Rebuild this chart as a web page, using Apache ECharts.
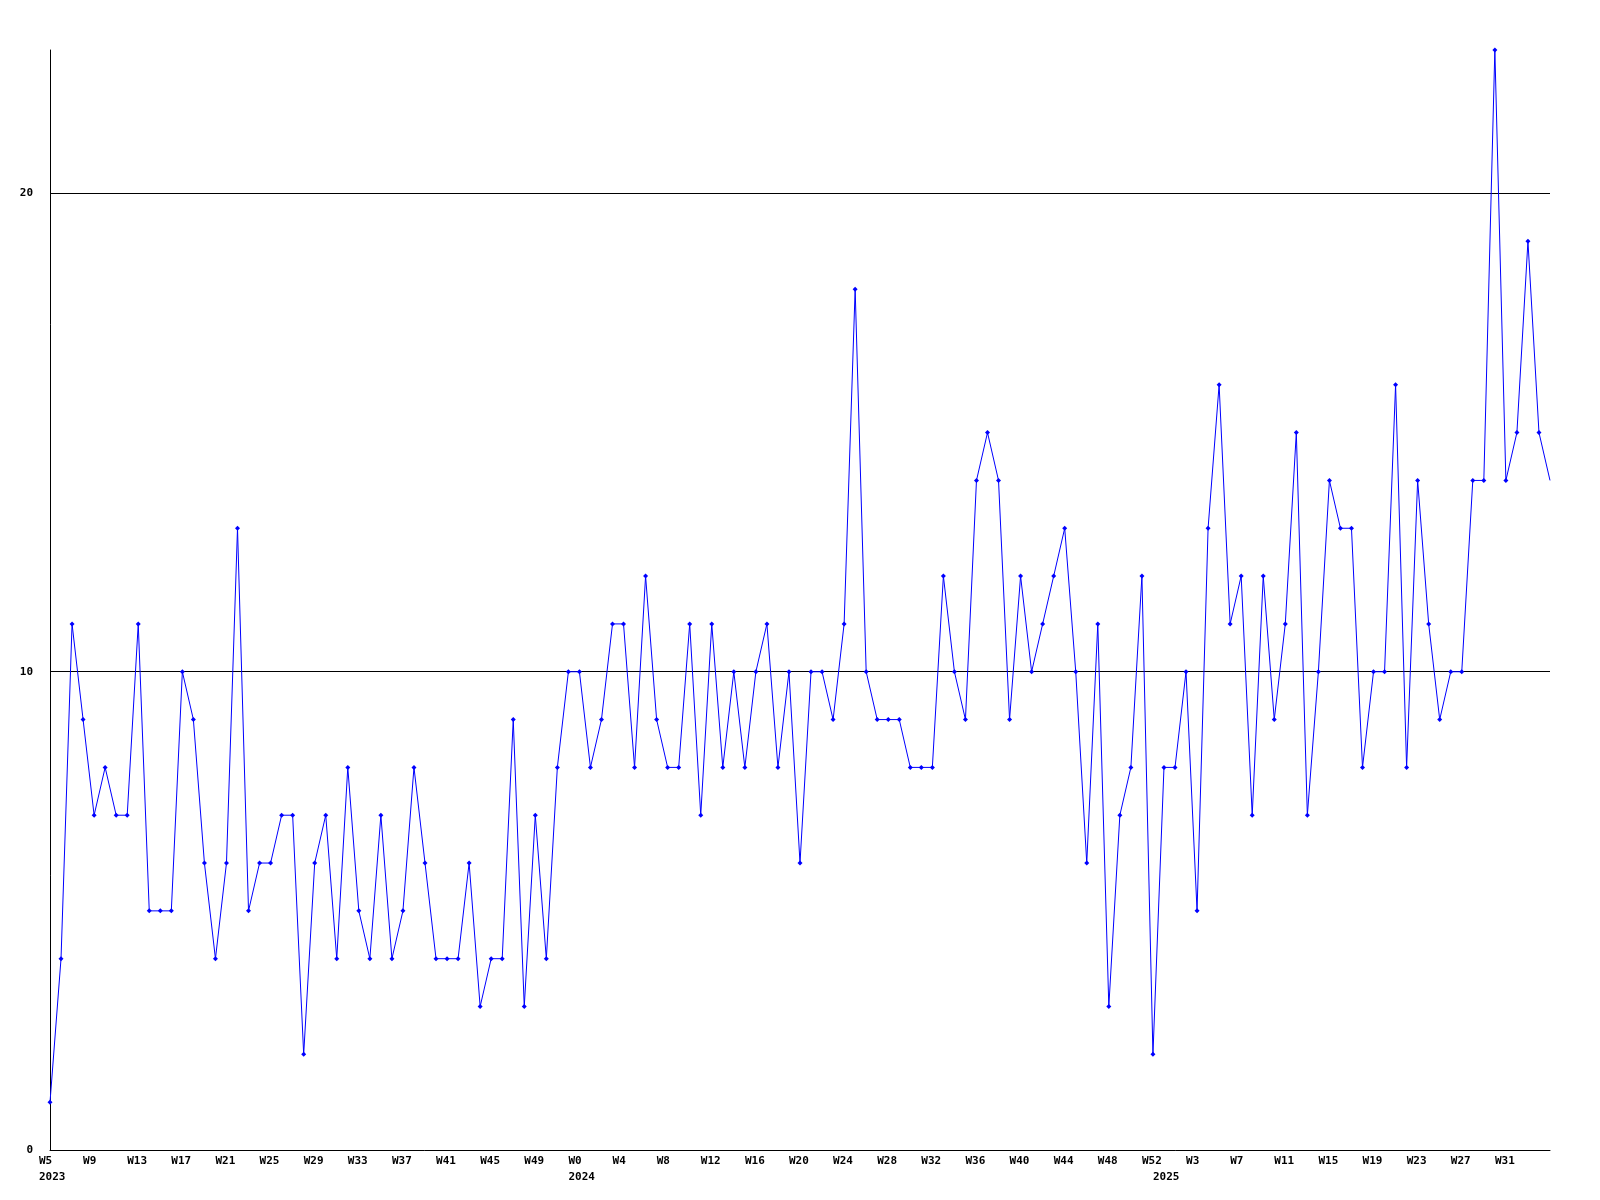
<!DOCTYPE html>
<html>
<head>
<meta charset="utf-8">
<script src="https://cdn.jsdelivr.net/npm/echarts@6/dist/echarts.min.js"></script>
<style>
  html, body { margin: 0; padding: 0; background: #ffffff; }
  #chart { width: 1600px; height: 1200px; }
</style>
</head>
<body>
<div id="chart"></div>
<script>
// Week ranges shown on the x axis: [year, first week, last week]
const yearRanges = [[2023, 5, 52], [2024, 0, 52], [2025, 0, 35]];

// Weekly values, in order from 2023 W5 to 2025 W35
const values2023 = [1, 4, 11, 9, 7, 8, 7, 7, 11, 5, 5, 5, 10, 9, 6, 4, 6, 13, 5, 6, 6, 7, 7, 2,
                    6, 7, 4, 8, 5, 4, 7, 4, 5, 8, 6, 4, 4, 4, 6, 3, 4, 4, 9, 3, 7, 4, 8, 10];
const values2024 = [10, 8, 9, 11, 11, 8, 12, 9, 8, 8, 11, 7, 11, 8, 10, 8, 10, 11, 8, 10, 6, 10, 10, 9,
                    11, 18, 10, 9, 9, 9, 8, 8, 8, 12, 10, 9, 14, 15, 14, 9, 12, 10, 11, 12, 13, 10, 6, 11,
                    3, 7, 8, 12, 2];
const values2025 = [8, 8, 10, 5, 13, 16, 11, 12, 7, 12, 9, 11, 15, 7, 10, 14, 13, 13, 8, 10, 10, 16, 8, 14,
                    11, 9, 10, 10, 14, 14, 23, 14, 15, 19, 15, 14];

const yTicks = [0, 10, 20];

// Build categories from the ranges
const categories = [];
const yearStart = {};
yearRanges.forEach(function (r) {
  yearStart[categories.length] = String(r[0]);
  for (let w = r[1]; w <= r[2]; w++) categories.push(r[0] + '-W' + w);
});
const values = values2023.concat(values2024, values2025);
const lastIndex = values.length - 1;

const fontFamily = '"DejaVu Sans Mono", "Liberation Mono", monospace';

const chart = echarts.init(document.getElementById('chart'), null, { renderer: 'canvas' });
chart.setOption({
  animation: false,
  backgroundColor: '#ffffff',
  grid: { left: 50, right: 50, top: 50, bottom: 50, containLabel: false },
  xAxis: {
    type: 'category',
    data: categories,
    boundaryGap: false,
    axisLine: { show: true, lineStyle: { color: '#000000', width: 1 } },
    axisTick: { show: false },
    splitLine: { show: false },
    axisLabel: {
      interval: function (index) {
        if (index === lastIndex) return false;
        return index % 4 === 0 || yearStart[index] !== undefined;
      },
      formatter: function (value, index) {
        const wk = value.split('-')[1];
        const top = index % 4 === 0 ? wk : ' ';
        return yearStart[index] !== undefined ? top + '\n' + yearStart[index] : top;
      },
      align: 'left',
      padding: [0, 0, 0, -11],
      margin: 3,
      lineHeight: 16,
      color: '#000000',
      fontFamily: fontFamily,
      fontWeight: 'bold',
      fontSize: 11
    }
  },
  yAxis: {
    type: 'value',
    min: yTicks[0],
    max: 'dataMax',
    interval: yTicks[1] - yTicks[0],
    axisLine: { show: true, lineStyle: { color: '#000000', width: 1 } },
    axisTick: { show: false },
    splitLine: { show: true, showMinLine: false, showMaxLine: false, lineStyle: { color: '#000000', width: 1 } },
    axisLabel: {
      showMaxLabel: false,
      margin: 17,
      color: '#000000',
      fontFamily: fontFamily,
      fontWeight: 'bold',
      fontSize: 11,
      formatter: function (v) { return yTicks.indexOf(v) >= 0 ? String(v) : ''; }
    }
  },
  series: [{
    type: 'line',
    data: values,
    symbol: function (value, params) { return params.dataIndex === lastIndex ? 'none' : 'diamond'; },
    symbolSize: 5,
    showAllSymbol: true,
    lineStyle: { color: '#0000ff', width: 1 },
    itemStyle: { color: '#0000ff' },
    clip: false
  }]
});
</script>
</body>
</html>
